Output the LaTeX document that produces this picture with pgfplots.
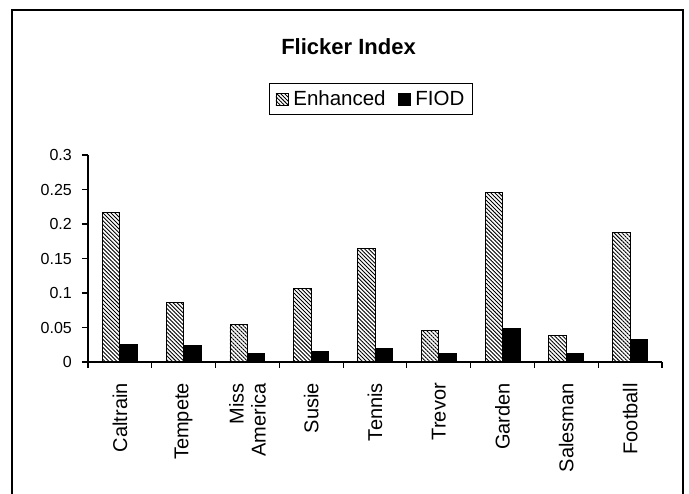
\documentclass[border=0pt]{standalone}
\usepackage{pgfplots}
\pgfplotsset{compat=1.18}
\usepackage{pgfplotstable}
\usetikzlibrary{patterns.meta}
\usepackage{fontspec}
\setmainfont{Liberation Sans}

\pgfplotstableread{
x enh fiod
0 0.217 0.025
1 0.086 0.024
2 0.054 0.013
3 0.106 0.015
4 0.164 0.020
5 0.046 0.013
6 0.246 0.048
7 0.039 0.013
8 0.188 0.032
}\data

\begin{document}
\begin{tikzpicture}[x=1pt,y=1pt]
\useasboundingbox (0,0) rectangle (689,494);
\draw[line width=2pt] (12,-2) -- (12,484) -- (683,484) -- (683,-2);
\node[font=\bfseries\fontsize{22}{26}\selectfont] at (348.5,447) {Flicker Index};
\begin{axis}[
  at={(88pt,132pt)}, anchor=south west, scale only axis,
  width=574pt, height=207pt,
  xmin=-0.5, xmax=8.5, ymin=0, ymax=0.3,
  axis x line*=bottom, axis y line*=left,
  axis line style={line width=1.2pt, -},
  tick align=outside,
  major tick length=0pt, minor tick length=6pt,
  every tick/.style={black, line width=1.2pt},
  xtick={0,1,2,3,4,5,6,7,8},
  xticklabels={Caltrain,Tempete,{Miss\\America},Susie,Tennis,Trevor,Garden,Salesman,Football},
  minor xtick={-0.5,0.5,1.5,2.5,3.5,4.5,5.5,6.5,7.5,8.5},
  ytick={0,0.05,0.1,0.15,0.2,0.25,0.3},
  yticklabels={0,0.05,0.1,0.15,0.2,0.25,0.3},
  minor ytick={0,0.05,0.1,0.15,0.2,0.25,0.3},
  xticklabel style={inner sep=0pt, yshift=-21pt, rotate=90, anchor=east, align=right,
    font=\fontsize{20}{22}\selectfont},
  yticklabel style={inner sep=0pt, xshift=-16pt, anchor=east,
    font=\fontsize{16}{18}\selectfont},
  ybar=0pt, bar width=0.274,
  legend columns=2,
  legend style={at={(0.493,1.2705)}, anchor=center, draw=black, line width=1.2pt,
    font=\fontsize{20.5}{23}\selectfont, inner xsep=6pt, inner ysep=5pt,
    /tikz/every even column/.append style={column sep=10pt},
    /tikz/every odd column/.append style={column sep=3pt}},
  legend image code/.code={\draw[#1, line width=0.8pt] (0pt,-6pt) rectangle (12pt,6pt);},
]
\addplot[draw=black, line width=0.9pt, pattern={Lines[angle=-45,distance=2.8pt,line width=0.9pt]}]
  table[x=x,y=enh]{\data};
\addplot[draw=black, fill=black, line width=0.9pt]
  table[x=x,y=fiod]{\data};
\legend{Enhanced,FIOD}
\end{axis}
\end{tikzpicture}
\end{document}
